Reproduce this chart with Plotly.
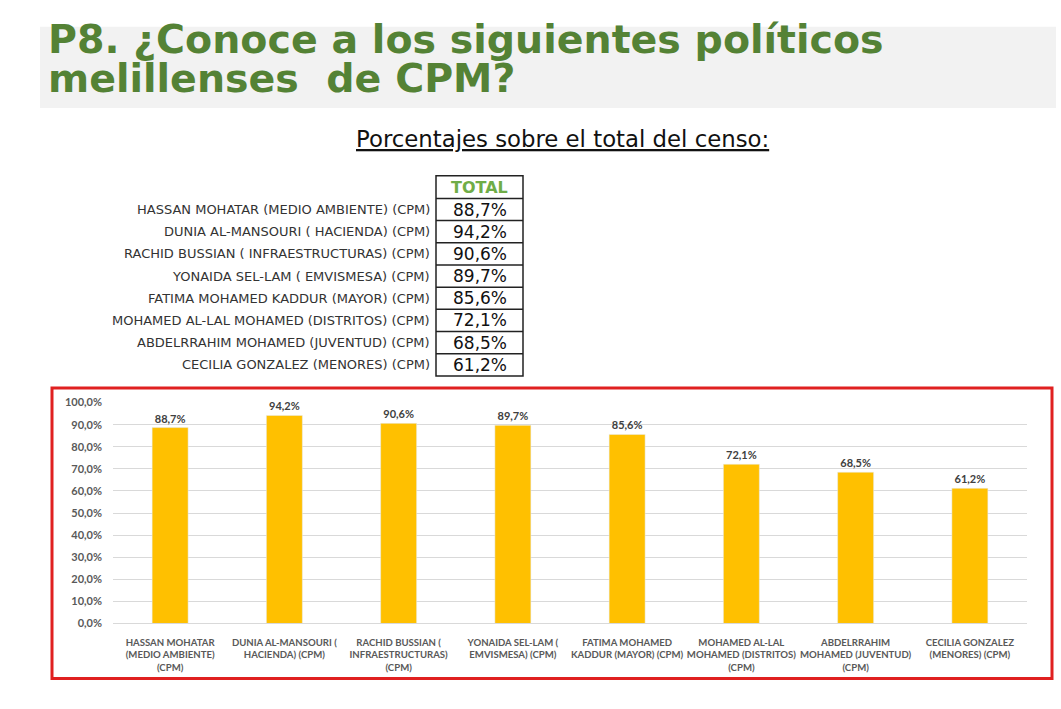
import plotly.graph_objects as go

W, H = 1061, 709

table_labels = [
    "HASSAN MOHATAR (MEDIO AMBIENTE) (CPM)",
    "DUNIA AL-MANSOURI ( HACIENDA) (CPM)",
    "RACHID BUSSIAN ( INFRAESTRUCTURAS) (CPM)",
    "YONAIDA SEL-LAM ( EMVISMESA) (CPM)",
    "FATIMA MOHAMED KADDUR (MAYOR) (CPM)",
    "MOHAMED AL-LAL MOHAMED (DISTRITOS) (CPM)",
    "ABDELRRAHIM MOHAMED (JUVENTUD) (CPM)",
    "CECILIA GONZALEZ (MENORES) (CPM)",
]
chart_labels = [
    "HASSAN MOHATAR<br>(MEDIO AMBIENTE)<br>(CPM)",
    "DUNIA AL-MANSOURI (<br>HACIENDA) (CPM)",
    "RACHID BUSSIAN (<br>INFRAESTRUCTURAS)<br>(CPM)",
    "YONAIDA SEL-LAM (<br>EMVISMESA) (CPM)",
    "FATIMA MOHAMED<br>KADDUR (MAYOR) (CPM)",
    "MOHAMED AL-LAL<br>MOHAMED (DISTRITOS)<br>(CPM)",
    "ABDELRRAHIM<br>MOHAMED (JUVENTUD)<br>(CPM)",
    "CECILIA GONZALEZ<br>(MENORES) (CPM)",
]
values = [88.7, 94.2, 90.6, 89.7, 85.6, 72.1, 68.5, 61.2]
y_ticks = list(range(0, 101, 10))

title_lines = ["P8. ¿Conoce a los siguientes políticos", "melillenses  de CPM?"]
subtitle = "Porcentajes sobre el total del censo:"
header = "TOTAL"


def X(px):
    return px / W


def Y(py):
    return 1 - py / H


def pct(v):
    return ("%.1f%%" % v).replace(".", ",")


fig = go.Figure()
fig.add_trace(go.Bar(
    x=list(range(len(values))),
    y=values,
    marker_color="#FFC000",
    texttemplate="<b>%{y:.1f}%</b>",
    textposition="outside",
    textfont=dict(family="Lato, Arial", size=11, color="#404040"),
    cliponaxis=False,
    width=0.315,
))

shapes = []
annotations = []

# title band
shapes.append(dict(type="rect", xref="paper", yref="paper", x0=X(40), x1=X(1056), y0=Y(103), y1=Y(20),
                   fillcolor="#F2F2F2", line_width=0, layer="below"))
for i, t in enumerate(title_lines):
    annotations.append(dict(xref="paper", yref="paper", x=X(46), y=Y(33 + 39 * i), text="<b>" + t + "</b>",
                            showarrow=False, xanchor="left", yanchor="middle",
                            font=dict(family="DejaVu Sans", size=39.5, color="#548235")))

# subtitle
annotations.append(dict(xref="paper", yref="paper", x=X(562), y=Y(134), text="<u>" + subtitle + "</u>",
                        showarrow=False, xanchor="center", yanchor="middle",
                        font=dict(family="DejaVu Sans", size=22.8, color="#111111")))

# table
tx0, tx1 = 436, 523
ty0, th_head, th_row = 172, 23, 22.6
shapes.append(dict(type="rect", xref="paper", yref="paper", x0=X(tx0), x1=X(tx1), y0=Y(ty0 + th_head + th_row * len(values)), y1=Y(ty0),
                   line=dict(color="#222222", width=1.5)))
annotations.append(dict(xref="paper", yref="paper", x=X((tx0 + tx1) / 2), y=Y(ty0 + th_head / 2), text="<b>" + header + "</b>",
                        showarrow=False, xanchor="center", yanchor="middle",
                        font=dict(family="DejaVu Sans", size=16, color="#70AD47")))
for i, (lab, v) in enumerate(zip(table_labels, values)):
    top = ty0 + th_head + th_row * i
    shapes.append(dict(type="line", xref="paper", yref="paper", x0=X(tx0), x1=X(tx1), y0=Y(top), y1=Y(top),
                       line=dict(color="#222222", width=1.5)))
    cy = top + th_row / 2
    annotations.append(dict(xref="paper", yref="paper", x=X(432), y=Y(cy), text=lab,
                            showarrow=False, xanchor="right", yanchor="middle",
                            font=dict(family="DejaVu Sans", size=13, color="#333333")))
    annotations.append(dict(xref="paper", yref="paper", x=X((tx0 + tx1) / 2), y=Y(cy), text=pct(v),
                            showarrow=False, xanchor="center", yanchor="middle",
                            font=dict(family="DejaVu Sans", size=17, color="#111111")))

# red frame
shapes.append(dict(type="rect", xref="paper", yref="paper", x0=X(52), x1=X(1052), y0=Y(684), y1=Y(388),
                   line=dict(color="#E02020", width=3)))

fig.update_layout(
    width=W, height=H,
    margin=dict(l=0, r=0, t=0, b=0),
    paper_bgcolor="white", plot_bgcolor="white",
    separators=",.",
    showlegend=False,
    shapes=shapes,
    annotations=annotations,
    xaxis=dict(domain=[X(113), X(1027)], range=[-0.5, len(values) - 0.5],
               tickmode="array", tickvals=list(range(len(values))),
               ticktext=["<b>" + c + "</b>" for c in chart_labels],
               tickfont=dict(family="Lato, Arial", size=9.6, color="#595959"),
               showline=True, linecolor="#D9D9D9", linewidth=1, showgrid=False, ticks="",
               tickangle=0, ticklabelstandoff=10, fixedrange=True),
    yaxis=dict(domain=[Y(628), Y(403)], range=[0, 100], tickmode="array", tickvals=y_ticks,
               ticktext=["<b>" + pct(v) + "</b>" for v in y_ticks],
               tickfont=dict(family="Lato, Arial", size=11, color="#595959"),
               showgrid=True, gridcolor="#D9D9D9", gridwidth=1, zeroline=False,
               showline=False, ticks="", ticklabelstandoff=10),
)

fig.write_html("out.html")
